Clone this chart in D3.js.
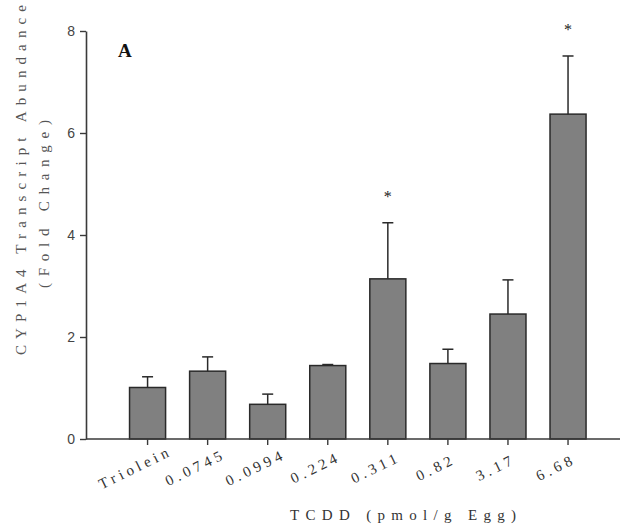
<!DOCTYPE html>
<html>
<head>
<meta charset="utf-8">
<script src="https://cdn.jsdelivr.net/npm/d3@7"></script>
<style>
  html, body { margin: 0; padding: 0; background: #fff; }
  #chart { width: 620px; height: 529px; }
</style>
</head>
<body>
<div id="chart"></div>
<script>
// doses (x categories), mean fold change and upper error (SE)
const doses = ['Triolein', '0.0745', '0.0994', '0.224', '0.311', '0.82', '3.17', '6.68'];
const foldChange = [1.01, 1.33, 0.68, 1.44, 3.14, 1.48, 2.45, 6.37];
const stdErr = [0.21, 0.28, 0.20, 0.02, 1.10, 0.28, 0.67, 1.14];
const significant = ['0.311', '6.68'];
const yTicks = [0, 2, 4, 6, 8];

const width = 620, height = 529;
const axisColor = '#3a3a3a';
const serif = '"Liberation Serif", "Times New Roman", serif';

const svg = d3.select('#chart').append('svg')
  .attr('width', width).attr('height', height);

const x = d3.scaleBand()
  .domain(doses)
  .range([86, 629.6])
  .paddingInner(0.4)
  .paddingOuter(0.725);

const y = d3.scaleLinear()
  .domain([0, 8])
  .range([439, 31]);

const rows = doses.map((d, i) => ({ dose: d, value: foldChange[i], err: stdErr[i] }));

// bars
svg.append('g').selectAll('rect')
  .data(rows)
  .enter().append('rect')
  .attr('x', d => x(d.dose))
  .attr('y', d => y(d.value))
  .attr('width', x.bandwidth())
  .attr('height', d => y(0) - y(d.value))
  .attr('fill', '#808080')
  .attr('stroke', '#2a2a2a')
  .attr('stroke-width', 1.5);

// upper error bars
const errG = svg.append('g')
  .attr('stroke', '#2a2a2a')
  .attr('stroke-width', 1.5);
const cx = d => x(d.dose) + x.bandwidth() / 2;
errG.selectAll('line.stem')
  .data(rows)
  .enter().append('line')
  .attr('class', 'stem')
  .attr('x1', cx).attr('x2', cx)
  .attr('y1', d => y(d.value))
  .attr('y2', d => y(d.value + d.err));
errG.selectAll('line.cap')
  .data(rows)
  .enter().append('line')
  .attr('class', 'cap')
  .attr('x1', d => cx(d) - 5.5).attr('x2', d => cx(d) + 5.5)
  .attr('y1', d => y(d.value + d.err))
  .attr('y2', d => y(d.value + d.err));

// significance stars
svg.append('g').selectAll('text')
  .data(rows.filter(d => significant.includes(d.dose)))
  .enter().append('text')
  .attr('x', cx)
  .attr('y', d => y(d.value + d.err) - 21)
  .attr('text-anchor', 'middle')
  .attr('font-family', serif)
  .attr('font-size', 16)
  .attr('fill', '#222')
  .text('*');

// y axis
const yAxis = svg.append('g')
  .attr('transform', 'translate(86,0)')
  .call(d3.axisLeft(y).tickValues(yTicks).tickSize(6).tickSizeOuter(0).tickPadding(5));
yAxis.select('.domain').attr('stroke', axisColor).attr('stroke-width', 1.6);
yAxis.selectAll('.tick line').attr('stroke', axisColor).attr('stroke-width', 1.4);
yAxis.selectAll('.tick text')
  .attr('font-family', '"Liberation Sans", Arial, sans-serif')
  .attr('font-size', 14)
  .attr('fill', '#444');

// x axis
const xAxis = svg.append('g')
  .attr('transform', 'translate(0,439)')
  .call(d3.axisBottom(x).tickSize(6).tickSizeOuter(0).tickFormat(''));
xAxis.select('.domain').attr('stroke', axisColor).attr('stroke-width', 1.6)
  .attr('d', 'M86,0H620');
xAxis.selectAll('.tick line').attr('stroke', axisColor).attr('stroke-width', 1.4);

svg.append('g').selectAll('text')
  .data(doses)
  .enter().append('text')
  .attr('transform', d => `translate(${x(d) + x.bandwidth() / 2 - 10},472) rotate(-26)`)
  .attr('text-anchor', 'middle')
  .attr('font-family', serif)
  .attr('font-size', 15)
  .attr('letter-spacing', 4)
  .attr('fill', '#333')
  .text(d => d);

// axis titles
svg.append('text')
  .attr('x', 290)
  .attr('y', 520)
  .attr('font-family', serif)
  .attr('font-size', 15)
  .attr('fill', '#333')
  .attr('textLength', 226)
  .attr('lengthAdjust', 'spacing')
  .text('TCDD (pmol/g Egg)');

svg.append('text')
  .attr('transform', 'translate(26,355) rotate(-90)')
  .attr('font-family', serif)
  .attr('font-size', 15)
  .attr('fill', '#555')
  .attr('textLength', 350)
  .attr('lengthAdjust', 'spacing')
  .text('CYP1A4 Transcript Abundance');

svg.append('text')
  .attr('transform', 'translate(49,288) rotate(-90)')
  .attr('font-family', serif)
  .attr('font-size', 15)
  .attr('fill', '#555')
  .attr('textLength', 168)
  .attr('lengthAdjust', 'spacing')
  .text('(Fold Change)');

// panel letter
svg.append('text')
  .attr('x', 118)
  .attr('y', 57)
  .attr('font-family', serif)
  .attr('font-size', 19)
  .attr('font-weight', 'bold')
  .attr('fill', '#111')
  .text('A');
</script>
</body>
</html>
